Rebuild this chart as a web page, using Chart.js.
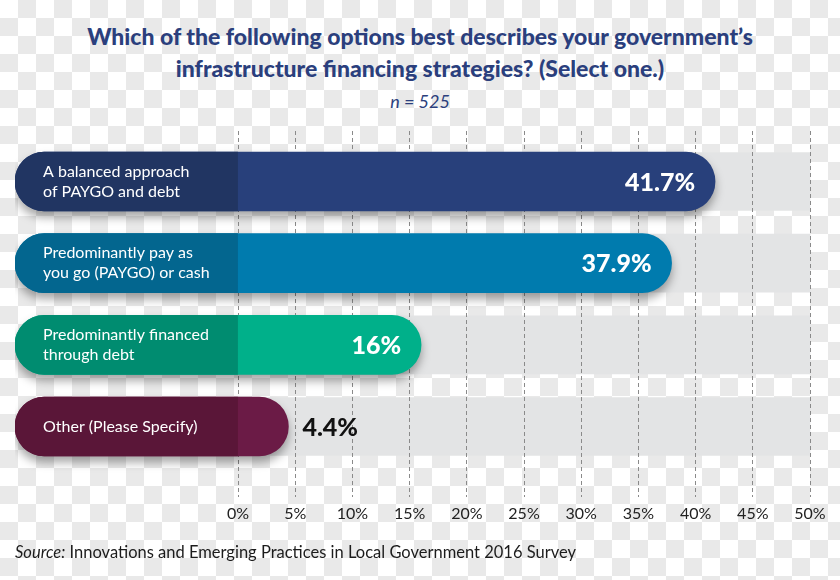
<!DOCTYPE html>
<html>
<head>
<meta charset="utf-8">
<script src="https://cdn.jsdelivr.net/npm/chart.js@4.4.1/dist/chart.umd.min.js"></script>
<style>
  html, body { margin: 0; padding: 0; }
  body {
    width: 840px; height: 580px; position: relative; overflow: hidden;
    background: repeating-conic-gradient(#e9e9e9 0 25%, #ffffff 0 50%) 0 0 / 36px 36px;
    font-family: Lato, "Open Sans", sans-serif;
  }
  #wrap { position: absolute; left: 0; top: 0; width: 840px; height: 580px; }
  .title {
    position: absolute; left: 0; width: 840px; text-align: center;
    color: #2b3f7d; font-weight: 900; font-size: 23px; line-height: 32px;
    top: 20px;
  }
  .n {
    position: absolute; left: 0; width: 840px; text-align: center;
    color: #2b3f7d; font-style: italic; font-size: 18px; top: 90px;
  }
  .source {
    position: absolute; left: 15px; top: 542px; font-size: 16.5px; color: #1c1c1c;
  }
</style>
</head>
<body>
<div class="title">Which of the following options best describes your government’s<br>infrastructure financing strategies? (Select one.)</div>
<div class="n">n = 525</div>
<div id="wrap"><canvas id="c" width="840" height="580"></canvas></div>
<div class="source"><i>Source:</i> Innovations and Emerging Practices in Local Government 2016 Survey</div>
<script>
// ---- data ----
const categories = [
  ["A balanced approach", "of PAYGO and debt"],
  ["Predominantly pay as", "you go (PAYGO) or cash"],
  ["Predominantly financed", "through debt"],
  ["Other (Please Specify)"]
];
const values = [41.7, 37.9, 16, 4.4];
const xTicks = [0, 5, 10, 15, 20, 25, 30, 35, 40, 45, 50];
const labelStart = -19.5;   // left end of the label part of each bar
const axisMax = 50;

// ---- styles ----
const darkColors  = ["#213562", "#03668f", "#008c70", "#5a1638"];
const lightColors = ["#28407b", "#007bae", "#00b08a", "#6b1b46"];
const bandColor = "#e3e4e5";
const R = 29.5;

const idx = categories.map((_, i) => i);

const shadowPlugin = {
  id: 'shadow',
  beforeDatasetDraw(chart, args) {
    if (args.index === 2) return false; // band drawn earlier, under the grid
    if (args.index === 1) {
      const ctx = chart.ctx;
      ctx.save();
      ctx.shadowColor = 'rgba(0,0,0,0.35)';
      ctx.shadowBlur = 10;
      ctx.shadowOffsetY = 6;
    }
  },
  afterDatasetDraw(chart, args) {
    if (args.index === 1) chart.ctx.restore();
  },
  beforeDraw(chart) {
    // gray background bands drawn before the grid lines
    chart.getDatasetMeta(2).controller.draw();
  }
};

const valueLabels = {
  id: 'valueLabels',
  afterDatasetsDraw(chart) {
    const ctx = chart.ctx;
    const xs = chart.scales.x, ys = chart.scales.y;
    ctx.save();
    ctx.font = '900 25px Lato, sans-serif';
    ctx.textBaseline = 'middle';
    values.forEach((v, i) => {
      const xEnd = xs.getPixelForValue(v);
      const yc = ys.getPixelForValue(i);
      const txt = v + '%';
      if (v < 10) {
        ctx.fillStyle = '#111111';
        ctx.textAlign = 'left';
        ctx.fillText(txt, xEnd + 14, yc + 1);
      } else {
        ctx.fillStyle = '#ffffff';
        ctx.textAlign = 'right';
        ctx.fillText(txt, xEnd - 20, yc + 1);
      }
    });
    ctx.restore();
  }
};

new Chart(document.getElementById('c'), {
  type: 'bar',
  data: {
    labels: idx,
    datasets: [
      {
        label: 'label part',
        data: values.map(() => [labelStart, 0]),
        backgroundColor: darkColors,
        borderSkipped: false,
        borderRadius: { topLeft: R, bottomLeft: R, topRight: 0, bottomRight: 0 },
        barThickness: 59,
        grouped: false
      },
      {
        label: 'value',
        data: values.map(v => [labelStart, v]),
        backgroundColor: lightColors,
        borderSkipped: false,
        borderRadius: R,
        barThickness: 59,
        grouped: false
      },
      {
        label: 'band',
        data: values.map(() => [0, axisMax]),
        backgroundColor: bandColor,
        borderSkipped: false,
        borderRadius: 0,
        barThickness: 58,
        grouped: false
      }
    ]
  },
  options: {
    indexAxis: 'y',
    responsive: false,
    animation: false,
    events: [],
    layout: { padding: { left: 15, right: 30, top: 131, bottom: 53 } },
    plugins: { legend: { display: false }, tooltip: { enabled: false }, title: { display: false } },
    scales: {
      x: {
        type: 'linear',
        min: labelStart,
        max: axisMax,
        afterBuildTicks(scale) { scale.ticks = xTicks.map(v => ({ value: v })); },
        afterFit(scale) { scale.height = 30; },
        border: { display: false, dash: [4, 3] },
        grid: { color: '#8a8a8a', lineWidth: 1, drawTicks: false, borderDash: [4, 3], tickBorderDash: [4, 3] },
        ticks: {
          autoSkip: false,
          maxRotation: 0,
          padding: 7,
          color: '#222222',
          font: { family: 'Lato', size: 16 },
          callback: v => v + '%'
        }
      },
      y: {
        type: 'linear',
        reverse: true,
        offset: false,
        min: -0.6184,
        max: 3.8632,
        afterBuildTicks(scale) { scale.ticks = idx.map(v => ({ value: v })); },
        afterFit(scale) { scale.width = 0; },
        border: { display: false },
        grid: { display: false, drawTicks: false },
        ticks: {
          mirror: true,
          padding: 28,
          z: 1,
          color: '#ffffff',
          autoSkip: false,
          font: { family: 'Lato', size: 16, lineHeight: 1.25 },
          callback: v => categories[v]
        }
      }
    }
  },
  plugins: [shadowPlugin, valueLabels]
});
</script>
</body>
</html>
